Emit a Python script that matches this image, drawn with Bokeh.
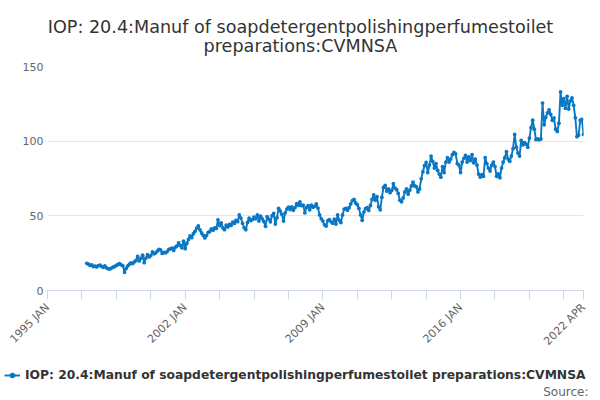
import math
import pandas as pd
from bokeh.plotting import figure
from bokeh.layouts import column
from bokeh.models import (Range1d, FixedTicker, Legend, LegendItem, Label,
                          ColumnDataSource)
from bokeh.embed import file_html
from bokeh.resources import INLINE

TITLE_1 = "IOP: 20.4:Manuf of soapdetergentpolishingperfumestoilet"
TITLE_2 = "preparations:CVMNSA"
SERIES_NAME = "IOP: 20.4:Manuf of soapdetergentpolishingperfumestoilet preparations:CVMNSA"
SOURCE_TEXT = "Source:"

first_month = "1997-01"
axis_start = (1995, 1)
axis_end = (2022, 4)

iop_values = [
    # 1997
    18.2, 17.6, 16.8, 17.2, 16.0, 16.3, 15.8, 16.6, 17.0, 16.2, 15.5, 16.4,
    # 1998
    15.2, 14.6, 14.4, 15.0, 15.6, 16.1, 16.8, 17.4, 17.9, 17.2, 16.5, 12.2,
    # 1999
    14.8, 16.5, 17.6, 18.4, 18.0, 19.2, 20.1, 22.8, 19.8, 21.5, 23.6, 18.6,
    # 2000
    21.7, 24.0, 22.5, 23.4, 25.8, 24.6, 25.2, 26.4, 27.6, 27.2, 24.8, 25.5,
    # 2001
    25.2, 26.1, 27.5, 27.9, 28.4, 26.8, 29.0, 29.8, 31.9, 30.2, 28.6, 33.0,
    # 2002
    28.0, 31.5, 34.2, 36.5, 35.4, 38.0, 39.6, 41.8, 43.2, 40.6, 38.5, 37.0,
    # 2003
    35.2, 36.8, 38.9, 39.5, 41.2, 40.4, 42.0, 41.6, 47.3, 43.5, 45.2, 42.0,
    # 2004
    40.7, 43.8, 42.5, 44.2, 43.6, 45.8, 44.9, 47.0, 46.2, 50.6, 48.5, 45.0,
    # 2005
    42.0, 40.7, 45.6, 48.4, 46.8, 47.5, 49.2, 48.0, 50.6, 46.5, 49.8, 48.0,
    # 2006
    46.2, 43.0, 49.5, 47.8, 46.0, 50.2, 51.7, 44.5, 48.8, 55.0, 53.2, 51.0,
    # 2007
    46.5, 52.0, 54.5, 55.8, 54.2, 56.0, 53.8, 55.5, 58.2, 57.0, 59.3, 56.8,
    # 2008
    57.2, 52.0, 55.6, 56.8, 54.0, 57.2, 55.8, 56.4, 58.0, 55.2, 50.6, 48.0,
    # 2009
    46.5, 44.0, 43.2, 46.8, 47.5, 46.0, 45.0, 47.8, 44.5, 50.6, 47.0, 45.5,
    # 2010
    50.6, 54.5, 55.0, 53.8, 55.4, 58.0, 60.2, 61.0, 58.6, 57.5, 55.0, 50.6,
    # 2011
    47.0, 52.5, 54.8, 55.5, 53.6, 57.0, 61.0, 64.0, 60.5, 62.8, 56.0, 54.0,
    # 2012
    62.5, 69.0, 70.4, 66.5, 68.0, 65.5, 67.0, 71.5, 68.5, 67.5, 65.0, 60.5,
    # 2013
    59.4, 62.0, 66.0, 68.0, 64.5, 67.2, 70.0, 72.6, 70.0, 69.5, 66.0, 68.0,
    # 2014
    74.8, 79.5, 83.6, 85.8, 79.0, 84.0, 90.0, 86.5, 82.0, 85.0, 80.5, 78.0,
    # 2015
    75.9, 83.0, 79.0, 86.0, 89.0, 86.0, 88.0, 91.0, 92.4, 91.5, 85.0, 84.0,
    # 2016
    79.0, 86.0, 88.5, 90.5, 86.0, 89.5, 87.0, 91.0, 85.5, 88.0, 84.0, 78.0,
    # 2017
    76.0, 77.5, 76.5, 89.0, 85.0, 82.0, 80.0, 84.0, 86.0, 83.0, 76.5, 78.0,
    # 2018
    75.5, 82.0, 86.0, 89.0, 93.0, 88.0, 86.5, 90.0, 95.0, 104.5, 96.0, 92.0,
    # 2019
    90.0, 100.5, 97.5, 99.0, 98.0, 96.0, 102.0, 109.0, 114.0, 108.0, 101.0, 101.5,
    # 2020
    101.0, 101.5, 125.5, 111.0, 116.0, 119.0, 121.0, 118.0, 114.0, 115.5, 108.0, 106.5,
    # 2021
    112.0, 133.0, 124.0, 128.5, 122.0, 130.0, 121.5, 127.0, 129.0, 124.0, 115.6, 103.0,
    # 2022
    104.0, 114.0, 114.5, 104.5,
]

y_ticks = [0, 50, 100, 150]
x_tick_step_months = 21
x_labels = {"1995-01": "1995 JAN", "2002-01": "2002 JAN", "2009-01": "2009 JAN",
            "2016-01": "2016 JAN", "2022-04": "2022 APR"}

dates = pd.date_range(first_month, periods=len(iop_values), freq="MS")


def month_index(year, month):
    return (year - axis_start[0]) * 12 + (month - axis_start[1])


xs = [month_index(d.year, d.month) for d in dates]
x_end = month_index(*axis_end)

source = ColumnDataSource(dict(x=xs, y=iop_values))

FONT = "DejaVu Sans"
LINE_COLOR = "#0a77c4"
W = 600
H_TOP = 56
H_MAIN = 299
H_LEG = 45


def strip(height):
    f = figure(width=W, height=height, output_backend="svg", toolbar_location=None,
               x_range=Range1d(0, W), y_range=Range1d(0, height),
               x_axis_type=None, y_axis_type=None,
               min_border_left=0, min_border_right=0, min_border_top=0,
               min_border_bottom=0)
    f.frame_align = False
    f.outline_line_color = None
    f.xgrid.grid_line_color = None
    f.ygrid.grid_line_color = None
    f.border_fill_color = "white"
    f.background_fill_color = "white"
    return f


# title strip
top = strip(H_TOP)
for txt, baseline_from_top in ((TITLE_1, 26.7), (TITLE_2, 45.0)):
    top.add_layout(Label(x=W / 2, y=H_TOP - baseline_from_top, text=txt,
                         text_align="center", text_baseline="alphabetic",
                         text_font=FONT, text_font_size="17.6px",
                         text_color="#333333"))

# main chart
p = figure(width=W, height=H_MAIN, output_backend="svg", toolbar_location=None,
           x_range=Range1d(0, x_end), y_range=Range1d(0, 150),
           min_border_left=47, min_border_right=17, min_border_top=66 - H_TOP,
           min_border_bottom=H_TOP + H_MAIN - 293)
p.frame_align = False
p.outline_line_color = None
p.background_fill_color = "white"
p.border_fill_color = "white"

line_r = p.line("x", "y", source=source, line_color=LINE_COLOR, line_width=1.9)
dot_r = p.scatter("x", "y", source=source, size=3.8, fill_color=LINE_COLOR,
                  line_color=None)

# x axis
tick_positions = list(range(0, x_end, x_tick_step_months)) + [x_end]
overrides = {}
for t in tick_positions:
    yy = axis_start[0] + t // 12
    mm = t % 12 + 1
    overrides[t] = x_labels.get(f"{yy}-{mm:02d}", "")
p.xaxis.ticker = FixedTicker(ticks=tick_positions)
p.xaxis.major_label_overrides = overrides
p.xaxis.major_label_orientation = math.pi / 4
p.xaxis.major_label_text_font = FONT
p.xaxis.major_label_text_font_size = "11px"
p.xaxis.major_label_text_color = "#666666"
p.xaxis.axis_line_color = "#ccd6eb"
p.xaxis.major_tick_line_color = "#ccd6eb"
p.xaxis.major_tick_out = 9
p.xaxis.major_tick_in = 0
p.xaxis.minor_tick_line_color = None
p.xaxis.major_label_standoff = 6

# y axis
p.yaxis.ticker = FixedTicker(ticks=y_ticks)
p.yaxis.axis_line_color = None
p.yaxis.major_tick_line_color = None
p.yaxis.minor_tick_line_color = None
p.yaxis.major_tick_out = 0
p.yaxis.major_tick_in = 0
p.yaxis.major_label_standoff = 4
p.yaxis.major_label_text_font = FONT
p.yaxis.major_label_text_font_size = "11px"
p.yaxis.major_label_text_color = "#666666"

p.xgrid.grid_line_color = None
p.ygrid.grid_line_color = "#e6e6e6"
p.ygrid.grid_line_width = 1

# legend strip below the chart
q = strip(H_LEG)
leg_line = q.line(x=[-20, -10], y=[-20, -20], line_color=LINE_COLOR, line_width=1.9)
leg_dot = q.scatter(x=[-15], y=[-20], size=3.8, fill_color=LINE_COLOR, line_color=None)

legend = Legend(items=[LegendItem(label=SERIES_NAME, renderers=[leg_line, leg_dot])],
                location=(4, H_LEG - 27), orientation="horizontal",
                label_text_font=FONT, label_text_font_size="12.3px",
                label_text_font_style="bold", label_text_color="#333333",
                border_line_color=None, background_fill_alpha=0,
                padding=0, margin=0, glyph_width=16, glyph_height=14,
                label_standoff=5, label_height=14)
q.add_layout(legend, "center")

q.add_layout(Label(x=588, y=H_LEG - 36, text=SOURCE_TEXT, text_align="right",
                   text_baseline="middle", text_font=FONT,
                   text_font_size="12px", text_color="#666666"))

layout = column(top, p, q, spacing=0)
open("out.html", "w").write(file_html(layout, INLINE))
